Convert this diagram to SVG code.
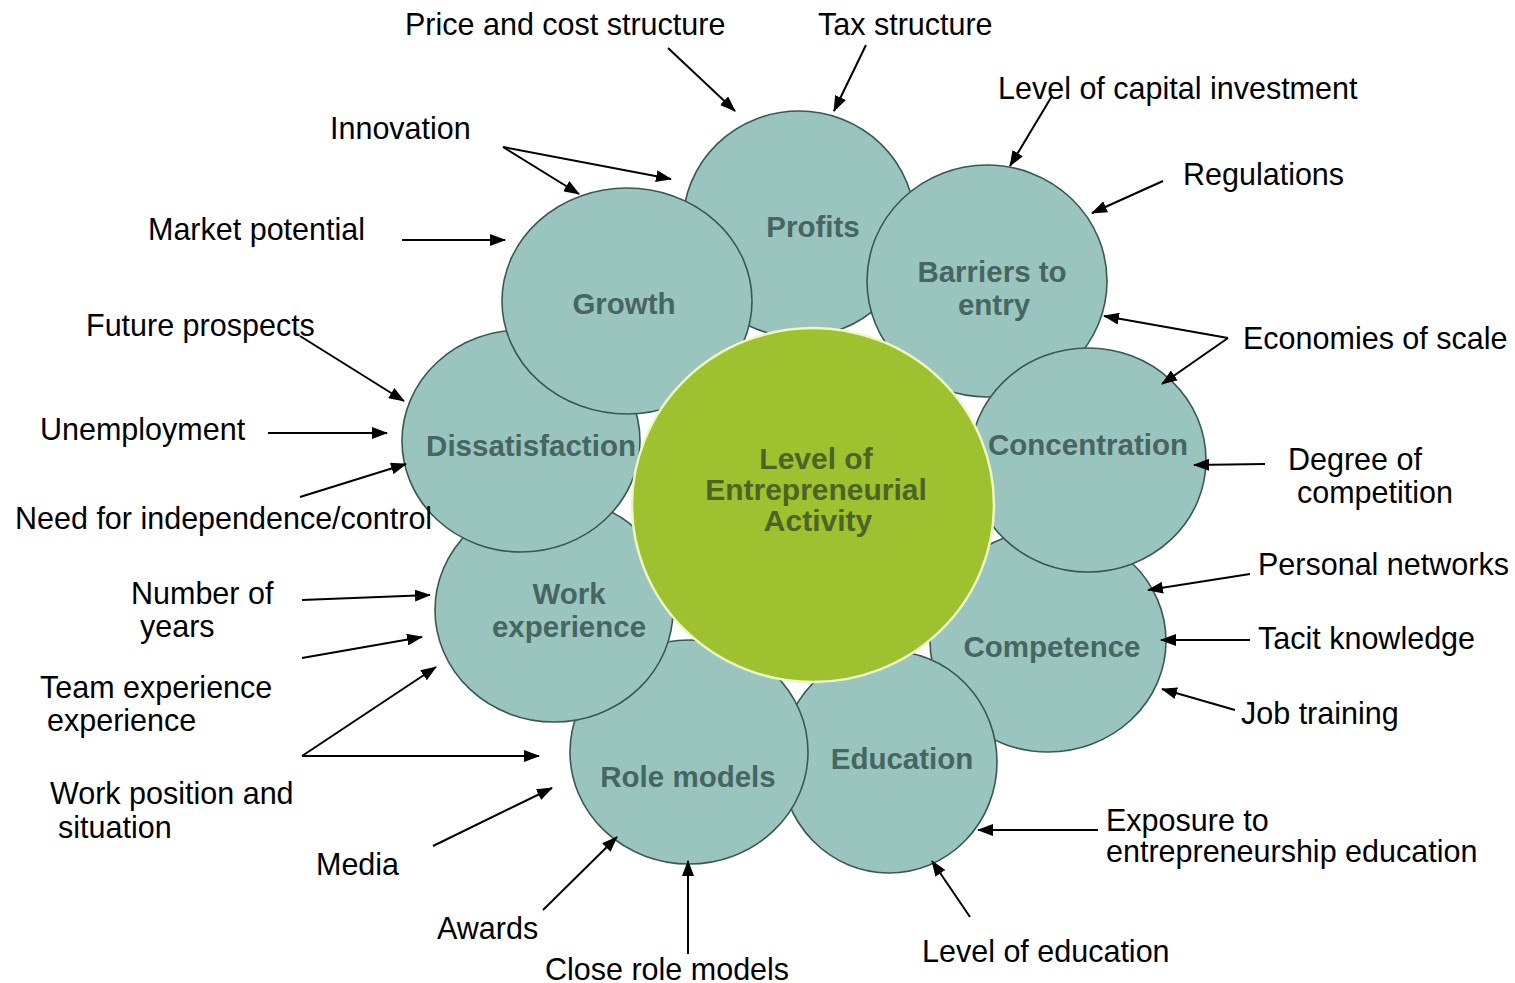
<svg xmlns="http://www.w3.org/2000/svg" width="1515" height="983" viewBox="0 0 1515 983">
<defs>
<marker id="ah" markerUnits="userSpaceOnUse" markerWidth="16" markerHeight="12" refX="15" refY="6" orient="auto">
<path d="M0,0 L16,6 L0,12 z" fill="#000"/>
</marker>
<style>
.petal{fill:#9ac5be;stroke:#3a5853;stroke-width:1.6}
.core{fill:#9dc12f;stroke:#eef6c4;stroke-width:2.5}
.pt{font-family:"Liberation Sans",Arial,sans-serif;font-weight:bold;font-size:29.5px;fill:#456661;text-anchor:middle}
.ct{font-family:"Liberation Sans",Arial,sans-serif;font-weight:bold;font-size:30px;fill:#4d6426;text-anchor:middle}
.lb{font-family:"Liberation Sans",Arial,sans-serif;font-size:30.5px;fill:#000}
.cn line{stroke:#000;stroke-width:2;fill:none}
</style>
</defs>
<rect width="1515" height="983" fill="#fff"/>

<g id="profits"><ellipse class="petal" cx="799" cy="224" rx="116" ry="113"/><text class="pt" x="813" y="237">Profits</text></g>
<g id="competence"><ellipse class="petal" cx="1048" cy="641" rx="118" ry="111"/><text class="pt" x="1052" y="657">Competence</text></g>
<g id="education"><ellipse class="petal" cx="889" cy="762" rx="108" ry="111"/><text class="pt" x="902" y="769">Education</text></g>
<g id="role-models"><ellipse class="petal" cx="689" cy="752" rx="119" ry="112"/><text class="pt" x="688" y="787">Role models</text></g>
<g id="work-experience"><ellipse class="petal" cx="554" cy="610" rx="119" ry="112"/><text class="pt" x="569" y="604">Work</text><text class="pt" x="569" y="637">experience</text></g>
<g id="dissatisfaction"><ellipse class="petal" cx="521" cy="441" rx="119" ry="111"/><text class="pt" x="531" y="456">Dissatisfaction</text></g>
<g id="growth"><ellipse class="petal" cx="627" cy="301" rx="125" ry="113"/><text class="pt" x="624" y="314">Growth</text></g>
<g id="barriers"><ellipse class="petal" cx="987" cy="281" rx="120" ry="116"/><text class="pt" x="992" y="282">Barriers to</text><text class="pt" x="994" y="315">entry</text></g>
<g id="concentration"><ellipse class="petal" cx="1088" cy="460" rx="118" ry="112"/><text class="pt" x="1088" y="455">Concentration</text></g>
<g id="core"><ellipse class="core" cx="813" cy="505" rx="181" ry="177"/><text class="ct" x="816" y="469">Level of</text><text class="ct" x="816" y="500">Entrepreneurial</text><text class="ct" x="818" y="531">Activity</text></g>

<g id="labels">
<text id="l-price" class="lb" x="405" y="35">Price and cost structure</text>
<text id="l-tax" class="lb" x="818" y="35">Tax structure</text>
<text id="l-capital" class="lb" x="998" y="99">Level of capital investment</text>
<text id="l-innovation" class="lb" x="330" y="139">Innovation</text>
<text id="l-regulations" class="lb" x="1183" y="185">Regulations</text>
<text id="l-market" class="lb" x="148" y="240">Market potential</text>
<text id="l-future" class="lb" x="86" y="336">Future prospects</text>
<text id="l-economies" class="lb" x="1243" y="349">Economies of scale</text>
<text id="l-unemployment" class="lb" x="40" y="440">Unemployment</text>
<text id="l-degree" class="lb" x="1288" y="470">Degree of</text>
<text class="lb" x="1297" y="503">competition</text>
<text id="l-need" class="lb" x="15" y="529">Need for independence/control</text>
<text id="l-personal" class="lb" x="1258" y="575">Personal networks</text>
<text id="l-number" class="lb" x="131" y="604">Number of</text>
<text class="lb" x="140" y="637">years</text>
<text id="l-tacit" class="lb" x="1258" y="649">Tacit knowledge</text>
<text id="l-team" class="lb" x="40" y="698">Team experience</text>
<text class="lb" x="47" y="731">experience</text>
<text id="l-job" class="lb" x="1241" y="724">Job training</text>
<text id="l-work" class="lb" x="50" y="804">Work position and</text>
<text class="lb" x="58" y="838">situation</text>
<text id="l-exposure" class="lb" x="1106" y="831">Exposure to</text>
<text class="lb" x="1106" y="862">entrepreneurship education</text>
<text id="l-media" class="lb" x="316" y="875">Media</text>
<text id="l-awards" class="lb" x="437" y="939">Awards</text>
<text id="l-leveledu" class="lb" x="922" y="962">Level of education</text>
<text id="l-close" class="lb" x="545" y="980">Close role models</text>
</g>

<g id="connectors" class="cn">
<line x1="668" y1="48" x2="735" y2="111" marker-end="url(#ah)"/>
<line x1="866" y1="45" x2="834" y2="111" marker-end="url(#ah)"/>
<line x1="1052" y1="96" x2="1010" y2="166" marker-end="url(#ah)"/>
<line x1="503" y1="147" x2="579" y2="194" marker-end="url(#ah)"/>
<line x1="503" y1="147" x2="671" y2="179" marker-end="url(#ah)"/>
<line x1="1163" y1="181" x2="1092" y2="213" marker-end="url(#ah)"/>
<line x1="402" y1="240" x2="505" y2="240" marker-end="url(#ah)"/>
<line x1="300" y1="336" x2="404" y2="401" marker-end="url(#ah)"/>
<line x1="1228" y1="338" x2="1104" y2="316" marker-end="url(#ah)"/>
<line x1="1228" y1="338" x2="1162" y2="384" marker-end="url(#ah)"/>
<line x1="268" y1="433" x2="387" y2="433" marker-end="url(#ah)"/>
<line x1="300" y1="497" x2="406" y2="464" marker-end="url(#ah)"/>
<line x1="1265" y1="464" x2="1194" y2="465" marker-end="url(#ah)"/>
<line x1="1250" y1="574" x2="1148" y2="590" marker-end="url(#ah)"/>
<line x1="302" y1="600" x2="430" y2="595" marker-end="url(#ah)"/>
<line x1="302" y1="658" x2="422" y2="637" marker-end="url(#ah)"/>
<line x1="302" y1="756" x2="436" y2="667" marker-end="url(#ah)"/>
<line x1="302" y1="756" x2="539" y2="756" marker-end="url(#ah)"/>
<line x1="1250" y1="640" x2="1161" y2="640" marker-end="url(#ah)"/>
<line x1="1235" y1="710" x2="1162" y2="689" marker-end="url(#ah)"/>
<line x1="433" y1="846" x2="552" y2="788" marker-end="url(#ah)"/>
<line x1="543" y1="910" x2="617" y2="837" marker-end="url(#ah)"/>
<line x1="688" y1="954" x2="688" y2="861" marker-end="url(#ah)"/>
<line x1="1098" y1="830" x2="978" y2="830" marker-end="url(#ah)"/>
<line x1="970" y1="917" x2="932" y2="861" marker-end="url(#ah)"/>
</g>
</svg>
